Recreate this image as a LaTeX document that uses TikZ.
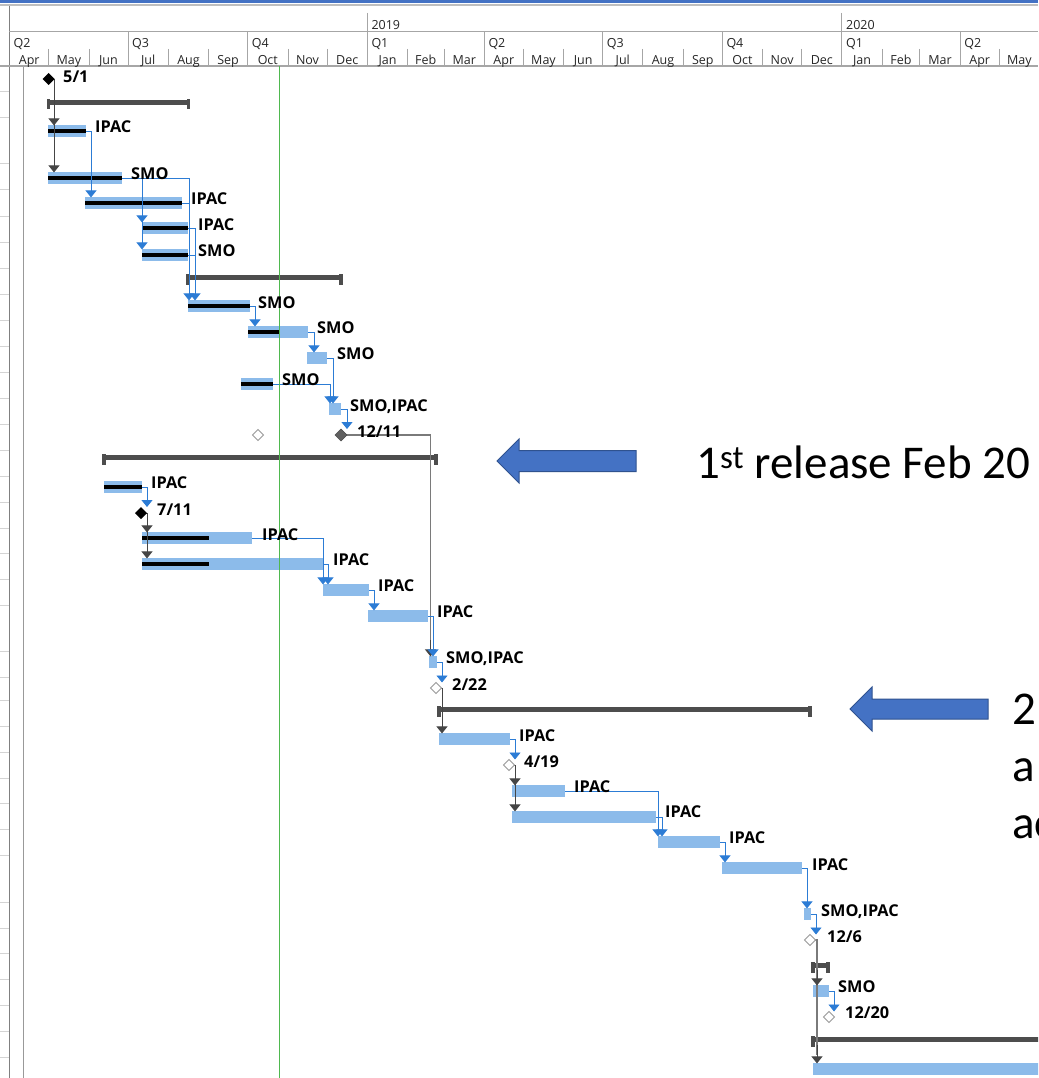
\documentclass[tikz,border=0pt]{standalone}
\usepackage{fontspec}
\setmainfont{Open Sans}
\newfontfamily\calibfont{Carlito}
\usetikzlibrary{arrows.meta}
\definecolor{barblue}{HTML}{8CBBEA}
\definecolor{conblue}{HTML}{2C7CD5}
\definecolor{sumgray}{HTML}{4D4D4D}
\definecolor{darkcon}{HTML}{454545}
\definecolor{longgray}{HTML}{7A7A7A}
\definecolor{bigblue}{HTML}{4472C4}
\definecolor{bigedge}{HTML}{2F528F}
\definecolor{hdrgray}{HTML}{A6A6A6}
\definecolor{rowgray}{HTML}{D4D4D4}
\definecolor{todaygreen}{HTML}{4FB84F}
\definecolor{msgray}{HTML}{606060}
\definecolor{hollowgray}{HTML}{9A9A9A}
\begin{document}
\begin{tikzpicture}[x=1pt,y=-1pt,
  hdr/.style={hdrgray,line width=1pt},
  hdrtxt/.style={font=\fontsize{12.5}{14}\selectfont,inner sep=0pt,text=black!85},
  prog/.style={black,line width=3.5pt},
  sumline/.style={sumgray,line width=4.5pt},
  bcon/.style={conblue,line width=0.9pt,-{Triangle[width=11pt,length=7pt]}},
  dcon/.style={darkcon,line width=0.9pt,-{Triangle[width=11pt,length=7pt]}},
  gcon/.style={longgray,line width=1.3pt},
  lbl/.style={font=\bfseries\fontsize{16.3}{18}\selectfont,anchor=west,inner sep=0pt,text height=11.6pt,text depth=0pt},
  bigtxt/.style={font=\calibfont\fontsize{47}{56}\selectfont,anchor=base west,inner sep=0pt},
  bigarrow/.style={fill=bigblue,draw=bigedge,line width=1pt,line join=miter}
]
\useasboundingbox (0,0) rectangle (1038,1078);
\clip (0,0) rectangle (1038,1078);
\fill[white] (0,0) rectangle (1038,1078);

% ---------- header ----------
\fill[bigblue] (0,0) rectangle (1038,3);
\fill[black!25] (0,4.3) rectangle (1038,6.3);
\draw[gray,line width=1.4pt] (9.3,6) -- (9.3,1078);
\draw[black!40,line width=1pt] (23.3,66) -- (23.3,1078);
\draw[hdr] (9.3,32) -- (1038,32);
\draw[hdrgray,line width=1.3pt] (0,66) -- (1038,66);
% year dividers
\foreach \x in {367.3,841.9} \draw[hdr] (\x,13) -- (\x,32);
% quarter dividers
\foreach \x in {128,247.6,367.3,484.3,602.6,722.3,841.9,960.2} \draw[hdr] (\x,32) -- (\x,66);
% month dividers
\foreach \x in {48.7,89,168.3,208.6,288,327,407.6,444,523.3,563.6,642.9,683.2,762.6,801.6,882.2,919.9,999.2} \draw[hdr] (\x,49) -- (\x,66);
% years
\node[hdrtxt,anchor=base west] (y2019) at (371.3,30) {2019};
\node[hdrtxt,anchor=base west] (y2020) at (845.9,30) {2020};
% quarters
\foreach \x/\q [count=\i] in {13.5/Q2,132/Q3,251.6/Q4,371.3/Q1,488.3/Q2,606.6/Q3,726.3/Q4,845.9/Q1,964.2/Q2}
  \node[hdrtxt,anchor=base west] (q\i) at (\x,47.5) {\q};
% months
\foreach \x/\m [count=\i] in {29.2/Apr,68.9/May,108.5/Jun,148.2/Jul,188.5/Aug,228.1/Sep,267.8/Oct,307.5/Nov,347.2/Dec,387.5/Jan,425.8/Feb,464.2/Mar,503.8/Apr,543.5/May,583.1/Jun,622.8/Jul,663/Aug,702.8/Sep,742.5/Oct,782.1/Nov,821.8/Dec,862/Jan,901/Feb,940/Mar,979.7/Apr,1019.4/May}
  \node[hdrtxt,anchor=base] (m\i) at (\x,64.5) {\m};

% row separators at left
\foreach \y in {92,118,164,190,216,242,268,294,320,346,372,398,424,450,476,502,528,553,579,605,651,677,700,726,752,778,803,829,855,902,928,953,979,1005,1031,1057}
  \draw[rowgray,line width=1pt] (0,\y) -- (8.6,\y);

% ---------- summary bars ----------
\foreach \a/\b/\y in {48.5/188.5/102.5, 188/341/277.5, 104/436/457.5, 439/810/709.5, 813/828/965.5}{
  \draw[sumline] (\a,\y) -- (\b,\y);
  \fill[sumgray] (\a-1.7,\y-3.5) rectangle (\a+1.7,\y+7);
  \fill[sumgray] (\b-1.7,\y-3.5) rectangle (\b+1.7,\y+7);
}
\draw[sumline] (813,1039.5) -- (1040,1039.5);
\fill[sumgray] (811.3,1036) rectangle (814.7,1046.5);

% ---------- task bars ----------
\foreach \a/\b/\y in {48/86/131, 48/122/178, 85/182/203, 142/188/228, 142/188/255,
  188/250/306, 248/308/332, 307/327/358, 241/273/384, 329/341/409,
  104/142/487, 142/252/538, 142/323/564, 323/369/590, 368/428/616, 429/437/662,
  439/510/739, 512/565/791, 512/656/817, 658/720/842, 722/802/868, 804/811/914,
  813/829/991, 813/1040/1069}
  \fill[barblue] (\a,\y-5.6) rectangle (\b,\y+5.6);
% progress
\foreach \a/\b/\y in {48/86/131, 48/122/178, 85/182/203, 142/188/228, 142/188/255,
  188/250/306, 248/280/332, 241/273/384, 104/142/487, 142/209/538, 142/209/564}
  \draw[prog] (\a,\y) -- (\b,\y);

% ---------- connectors ----------
% 5/1
\draw[dcon] (48.7,79) -- (54,79) -- (54,125.4);
\draw[dcon] (54,79) -- (54,172.4);
% group 1
\draw[bcon] (86,131) -- (91,131) -- (91,197.4);
\draw[bcon] (122,178) -- (142,178) -- (142,222.4);
\draw[bcon] (142,178) -- (142,249.4);
\draw[bcon] (142,178) -- (189,178) -- (189,300.4);
\draw[conblue,line width=0.9pt] (182,203) -- (189,203);
\draw[bcon] (188,228) -- (195,228) -- (195,300.4);
\draw[conblue,line width=0.9pt] (188,255) -- (195,255);
\draw[bcon] (250,306) -- (255,306) -- (255,326.4);
\draw[bcon] (308,332) -- (314,332) -- (314,352.4);
\draw[bcon] (327,358) -- (333,358) -- (333,403.4);
\draw[bcon] (273,384) -- (330,384) -- (330,403.4);
\draw[bcon] (341,409) -- (347,409) -- (347,429);
% 12/11 -> next release
\draw[gcon] (341,435) -- (430.5,435) -- (430.5,652);
\draw[dcon] (430.5,640) -- (430.5,656.4);
% group 2
\draw[bcon] (142,487) -- (147,487) -- (147,507);
\draw[dcon] (141,513) -- (147,513) -- (147,532.4);
\draw[dcon] (147,513) -- (147,558.4);
\draw[bcon] (252,538) -- (323,538) -- (323,584.4);
\draw[bcon] (323,564) -- (328,564) -- (328,584.4);
\draw[bcon] (369,590) -- (374,590) -- (374,610.4);
\draw[bcon] (428,616) -- (433,616) -- (433,656.4);
\draw[bcon] (437,662) -- (442,662) -- (442,682.5);
% group 3
\draw[dcon] (436,688) -- (442,688) -- (442,733.4);
\draw[bcon] (510,739) -- (515,739) -- (515,759.5);
\draw[dcon] (509,765) -- (515,765) -- (515,785.4);
\draw[dcon] (515,765) -- (515,811.4);
\draw[bcon] (565,791) -- (658,791) -- (658,836.4);
\draw[bcon] (656,817) -- (662,817) -- (662,836.4);
\draw[bcon] (720,842) -- (725,842) -- (725,862.4);
\draw[bcon] (802,868) -- (807,868) -- (807,908.4);
\draw[bcon] (811,914) -- (816,914) -- (816,934.5);
% group 4
\draw[gcon] (810,940) -- (817,940) -- (817,1055);
\draw[dcon] (817,970) -- (817,985.4);
\draw[dcon] (817,1045) -- (817,1063.4);
\draw[bcon] (829,991) -- (834,991) -- (834,1011.5);

% ---------- milestones ----------
\fill[black] (48.7,73) -- (54.7,79) -- (48.7,85) -- (42.7,79) -- cycle;
\fill[black] (141,507) -- (147,513) -- (141,519) -- (135,513) -- cycle;
\filldraw[fill=msgray,draw=black!70,line width=0.6pt] (341,429) -- (347,435) -- (341,441) -- (335,435) -- cycle;
\foreach \x/\y in {258/435, 436/688, 509/765, 810/940, 829/1017}
  \filldraw[fill=white,draw=hollowgray,line width=1pt] (\x,\y-5.5) -- (\x+5.5,\y) -- (\x,\y+5.5) -- (\x-5.5,\y) -- cycle;

% today line
\draw[todaygreen,line width=1.4pt] (279.5,66.5) -- (279.5,1078);

% ---------- labels ----------
\node[lbl] (l51) at (63,77) {5/1};
\node[lbl] (t1) at (95,127) {IPAC};
\node[lbl] (t2) at (131,174) {SMO};
\node[lbl] (t3) at (191,199) {IPAC};
\node[lbl] (t4) at (198,225) {IPAC};
\node[lbl] (t5) at (198,251) {SMO};
\node[lbl] (t6) at (258,303) {SMO};
\node[lbl] (t7) at (317,328) {SMO};
\node[lbl] (t8) at (337,354) {SMO};
\node[lbl] (t9) at (282,380) {SMO};
\node[lbl] (t10) at (350,406) {SMO,IPAC};
\node[lbl] (l1211) at (357,432) {12/11};
\node[lbl] (t11) at (151,483) {IPAC};
\node[lbl] (l711) at (157,510) {7/11};
\node[lbl] (t12) at (262,535) {IPAC};
\node[lbl] (t13) at (333,560) {IPAC};
\node[lbl] (t14) at (378,586) {IPAC};
\node[lbl] (t15) at (437,612) {IPAC};
\node[lbl] (t16) at (446,658) {SMO,IPAC};
\node[lbl] (l222) at (452,685) {2/22};
\node[lbl] (t17) at (519,736) {IPAC};
\node[lbl] (l419) at (524,762) {4/19};
\node[lbl] (t18) at (574,787) {IPAC};
\node[lbl] (t19) at (665,812) {IPAC};
\node[lbl] (t20) at (729,838) {IPAC};
\node[lbl] (t21) at (812,865) {IPAC};
\node[lbl] (t22) at (821,911) {SMO,IPAC};
\node[lbl] (l126) at (827,937) {12/6};
\node[lbl] (t23) at (838,987) {SMO};
\node[lbl] (l1220) at (845,1013) {12/20};

% ---------- callouts ----------
\draw[bigarrow] (497,461) -- (519,439) -- (519,450.5) -- (636,450.5) -- (636,471.5) -- (519,471.5) -- (519,483) -- cycle;
\node[bigtxt] (rel1) at (696,478) {1\textsuperscript{st} release Feb 20};
\draw[bigarrow] (850,709) -- (872,687) -- (872,699) -- (988,699) -- (988,719) -- (872,719) -- (872,731) -- cycle;
\node[bigtxt] (rel2a) at (1012,724) {2};
\node[bigtxt] (rel2b) at (1012,781) {a};
\node[bigtxt] (rel2c) at (1012,838) {ac};
\end{tikzpicture}
\end{document}
